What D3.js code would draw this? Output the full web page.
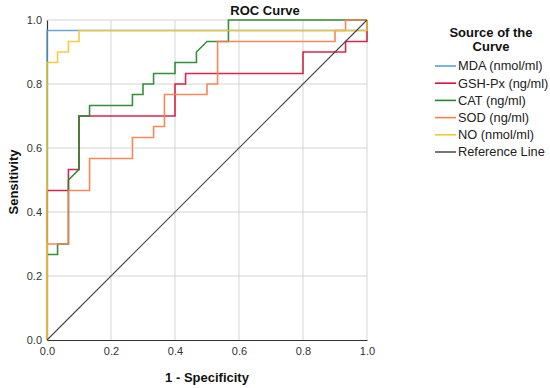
<!DOCTYPE html>
<html><head><meta charset="utf-8">
<script src="https://cdn.jsdelivr.net/npm/d3@7"></script>
<style>body{margin:0;background:#fff;}svg{display:block;font-family:"Liberation Sans",Arial,sans-serif;}</style>
</head><body><svg id="c" width="550" height="388"></svg>
<script>
const seriesNames = ["MDA (nmol/ml)","GSH-Px (ng/ml)","CAT (ng/ml)","SOD (ng/ml)","NO (nmol/ml)"];
const seriesColors = ["#5aa0d2","#d2143c","#22882e","#f4804a","#f0c834"];
const mda = [[0,0],[0,0.967],[0.1,0.967],[1,0.967],[1,1]];
const gshpx = [[0,0],[0,0.467],[0.067,0.467],[0.067,0.533],[0.1,0.533],[0.1,0.7],[0.4,0.7],[0.4,0.8],[0.433,0.8],[0.433,0.833],[0.8,0.833],[0.8,0.9],[0.933,0.9],[0.933,0.933],[1,0.933],[1,1]];
const cat = [[0,0],[0,0.267],[0.033,0.267],[0.033,0.3],[0.067,0.3],[0.067,0.5],[0.1,0.533],[0.1,0.7],[0.133,0.7],[0.133,0.733],[0.267,0.733],[0.267,0.767],[0.3,0.767],[0.3,0.8],[0.333,0.8],[0.333,0.833],[0.4,0.833],[0.4,0.867],[0.467,0.867],[0.467,0.9],[0.5,0.933],[0.567,0.933],[0.567,1],[1,1]];
const sod = [[0,0],[0,0.3],[0.067,0.3],[0.067,0.467],[0.133,0.467],[0.133,0.567],[0.267,0.567],[0.267,0.633],[0.333,0.633],[0.333,0.667],[0.367,0.667],[0.367,0.767],[0.5,0.767],[0.5,0.8],[0.533,0.8],[0.533,0.933],[0.9,0.933],[0.9,0.967],[0.933,0.967],[0.933,1],[1,1]];
const no = [[0,0],[0,0.867],[0.033,0.867],[0.033,0.9],[0.067,0.9],[0.067,0.933],[0.1,0.933],[0.1,0.967],[1,0.967],[1,1]];
const refLine = [[0,0],[1,1]];
const ticks = [0,0.2,0.4,0.6,0.8,1.0];
const allSeries = [mda,gshpx,cat,sod,no];

const svg = d3.select("#c");
const x = d3.scaleLinear().domain([0,1]).range([47,367]);
const y = d3.scaleLinear().domain([0,1]).range([340,20]);

// grid
const g = svg.append("g");
g.selectAll("line.gx").data(ticks.slice(1)).join("line")
  .attr("x1",d=>x(d)).attr("x2",d=>x(d)).attr("y1",y(0)).attr("y2",y(1))
  .attr("stroke","#d4d4d4").attr("stroke-width",1);
g.selectAll("line.gy").data(ticks.slice(1)).join("line")
  .attr("y1",d=>y(d)).attr("y2",d=>y(d)).attr("x1",x(0)).attr("x2",x(1))
  .attr("stroke","#d4d4d4").attr("stroke-width",1);

// axes
const xAxis = svg.append("g").attr("transform",`translate(0,${y(0)})`)
  .call(d3.axisBottom(x).tickValues(ticks).tickFormat(d3.format(".1f")).tickSize(0).tickPadding(7));
const yAxis = svg.append("g").attr("transform",`translate(${x(0)},0)`)
  .call(d3.axisLeft(y).tickValues(ticks).tickFormat(d3.format(".1f")).tickSize(0).tickPadding(5));
[xAxis,yAxis].forEach(a=>{
  a.select(".domain").attr("stroke","#333").attr("stroke-width",1.2);
  a.selectAll("text").attr("font-size","11px").attr("fill","#333").attr("font-family","Liberation Sans, Arial, sans-serif");
});

// curves
const line = d3.line().x(d=>x(d[0])).y(d=>y(d[1]));
allSeries.forEach((s,i)=>{
  svg.append("path").datum(s).attr("d",line).attr("fill","none")
    .attr("stroke",seriesColors[i]).attr("stroke-width",1.6).attr("stroke-opacity",0.92);
});
svg.append("path").datum(refLine).attr("d",line).attr("fill","none")
  .attr("stroke","#444").attr("stroke-width",1.1);

// titles
svg.append("text").attr("x",265).attr("y",15).attr("text-anchor","middle")
  .attr("font-size","13px").attr("font-weight","bold").attr("fill","#111").text("ROC Curve");
svg.append("text").attr("x",207).attr("y",382).attr("text-anchor","middle")
  .attr("font-size","13px").attr("font-weight","bold").attr("fill","#111").text("1 - Specificity");
svg.append("text").attr("transform","translate(18,182) rotate(-90)").attr("text-anchor","middle")
  .attr("font-size","13px").attr("font-weight","bold").attr("fill","#111").text("Sensitivity");

// legend
const lg = svg.append("g");
lg.append("text").attr("x",491).attr("y",37).attr("text-anchor","middle")
  .attr("font-size","13px").attr("font-weight","bold").attr("fill","#111").text("Source of the");
lg.append("text").attr("x",491).attr("y",51).attr("text-anchor","middle")
  .attr("font-size","13px").attr("font-weight","bold").attr("fill","#111").text("Curve");
const legNames = seriesNames.concat(["Reference Line"]);
const legColors = seriesColors.concat(["#555"]);
legNames.forEach((n,i)=>{
  const yy = 66 + i*17.2;
  lg.append("line").attr("x1",435).attr("x2",456).attr("y1",yy).attr("y2",yy)
    .attr("stroke",legColors[i]).attr("stroke-width",1.6);
  lg.append("text").attr("x",458).attr("y",yy+4.4).attr("font-size","12.8px").attr("fill","#222").text(n);
});
</script></body></html>
